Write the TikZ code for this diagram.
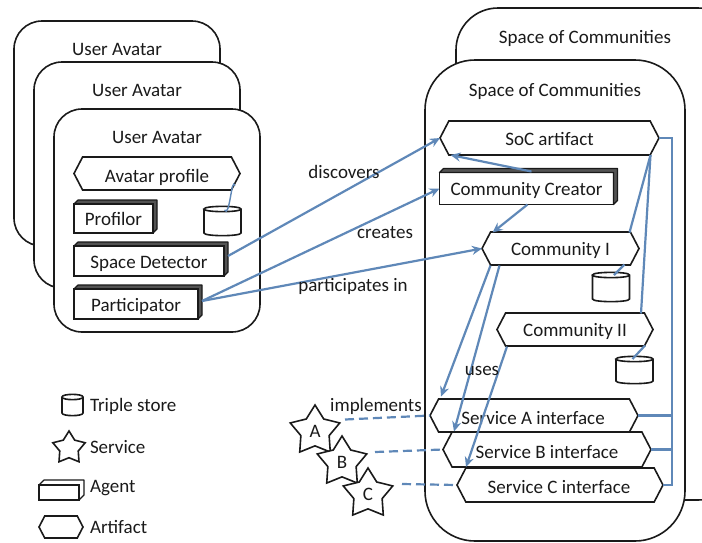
\documentclass[tikz,border=0pt]{standalone}
\usepackage{fontspec}
\setmainfont{Carlito}
\usetikzlibrary{shapes.geometric,shapes.symbols,arrows.meta}
\definecolor{linkblue}{HTML}{5F88B8}
\definecolor{inkblack}{HTML}{1A1A1A}
\tikzset{
  x=1pt,y=-1pt,
  every node/.style={font=\fontsize{19}{21}\selectfont,text=inkblack,inner sep=0pt,outer sep=0pt},
  boxline/.style={draw=inkblack,line width=1.6pt,fill=white},
  container/.style={boxline,rounded corners=#1},
  artifact/.style={boxline,signal,signal to=east and west,signal pointer angle=125},
  agentface/.style={boxline,rectangle},
  depth/.style={draw=inkblack,line width=1.2pt,fill=inkblack!75,line join=round},
  storebase/.style={rectangle},
  service/.style={boxline,star,star points=5,star point ratio=1.75,minimum size=52pt},
  link/.style={draw=linkblue,line width=2.2pt},
  arrowlink/.style={link,-{Stealth[length=10pt,width=9pt]}},
  thinlink/.style={draw=linkblue,line width=1.4pt},
  dashlink/.style={link,dash pattern=on 9pt off 5pt},
  label/.style={}
}
\newcommand{\hexa}[6][-7pt]{\node[artifact,minimum width=#4pt,minimum height=#5pt] (#2) at #3 {\smash{\raisebox{#1}{#6}}};}
\newcommand{\agentbox}[6][4]{%
  \node[agentface,minimum width=#4pt,minimum height=#5pt] (#2) at #3 {\smash{\raisebox{-7pt}{#6}}};
  \path[depth] (#2.north west) -- ++(#1,-#1) -- ([shift={(#1,-#1)}]#2.north east) -- ([shift={(#1,-#1)}]#2.south east) -- (#2.south east) -- (#2.north east) -- cycle;
  \draw[boxline,fill=none] (#2.north west) rectangle (#2.south east);}
\newcommand{\storebox}[4]{%
  \node[storebase,minimum width=#3pt,minimum height=#4pt] (#1) at #2 {};
  \path[boxline] (#1.north west) -- (#1.south west) .. controls +(0,3.5) and +(0,3.5) .. (#1.south east) -- (#1.north east) .. controls +(0,-3.5) and +(0,-3.5) .. (#1.north west) .. controls +(0,3.5) and +(0,3.5) .. (#1.north east);}
\begin{document}
\begin{tikzpicture}
\useasboundingbox (0,0) rectangle (702,542);
% avatar stack
\draw[container=28pt] (14,21) rectangle (220,246);
\draw[container=28pt] (34,62) rectangle (240,288);
\draw[container=28pt] (54,109) rectangle (260,332);
\node[label] (ua1) at (117,49) {User Avatar};
\node[label] (ua2) at (137,90) {User Avatar};
\node[label] (ua3) at (157,137) {User Avatar};
\hexa[-9pt]{prof}{(157,173.5)}{166}{33}{Avatar profile}
\agentbox{profilor}{(113.5,218.5)}{79}{29}{Profilor}
\storebox{cylA}{(222.5,221)}{37}{24}
\agentbox{detector}{(149,261)}{150}{30}{Space Detector}
\agentbox{particip}{(136,304)}{124}{30}{Participator}
% spaces of communities
\draw[container=42pt] (456,8) rectangle (740,500);
\draw[container=50pt] (425,60) rectangle (685,541);
\node[label] (soc1) at (585,38) {Space of Communities};
\node[label] (soc2) at (555,91) {Space of Communities};
\hexa{soc}{(549.5,138)}{219}{34}{SoC artifact}
\agentbox{creator}{(526.5,188.5)}{174}{32}{Community Creator}
\hexa{comI}{(560.5,248.5)}{157}{33}{Community I}
\storebox{cylB}{(611,287)}{37}{24}
\hexa{comII}{(575,329.5)}{156}{33}{Community II}
\storebox{cylC}{(634.5,370)}{37}{22}
\hexa{svcA}{(534,415.5)}{208}{33}{}
\hexa{svcB}{(547,449.5)}{208}{35}{}
\hexa{svcC}{(560,485)}{206}{34}{}
\node[label] (tA) at (533,418) {Service A interface};
\node[label] (tB) at (547,452) {Service B interface};
\node[label] (tC) at (559,487) {Service C interface};
% services
\node[service] (starA) at (315,431) {A};
\node[service] (starB) at (342,462) {B};
\node[service] (starC) at (368,494) {C};
% links
\draw[thinlink] ([shift={(78,12)}]prof.center) to[out=110,in=-60] ([shift={(2,-11)}]cylA.center);
\draw[arrowlink] (detector.east) ++(4,-5) coordinate (dE) -- (soc.west);
\draw[arrowlink] (particip.east) ++(4,-3) coordinate (pE) -- (creator.west);
\draw[arrowlink] (pE) -- (comI.west);
\draw[arrowlink] ([shift={(5,-17)}]creator.center) -- ([shift={(-99,17)}]soc.center);
\draw[arrowlink] ([shift={(1,16)}]creator.center) -- ([shift={(-68,-16)}]comI.center);
\coordinate (socfoot) at ([shift={(101,17)}]soc.center);
\draw[link] (socfoot) -- ([shift={(69,-16)}]comI.center);
\draw[link] (socfoot) -- ([shift={(66,-16)}]comII.center);
\draw[link] ([shift={(64,16)}]comI.center) -- ([shift={(3,-12)}]cylB.center);
\draw[link] ([shift={(70,16)}]comII.center) -- ([shift={(-2,-11)}]cylC.center);
\draw[link] (soc.east) -- ++(13,0) coordinate (bus) |- (svcC.east);
\draw[link] (svcA.east) -| (bus);
\draw[link] (svcB.east) -| (bus);
\draw[arrowlink] ([shift={(-70,17)}]comI.center) -- ([shift={(-93,-19)}]svcA.center);
\draw[arrowlink] ([shift={(-61,17)}]comI.center) -- ([shift={(-93,-18)}]svcB.center);
\draw[arrowlink] ([shift={(-68,17)}]comII.center) -- ([shift={(-94,-18)}]svcC.center);
\draw[dashlink] ([shift={(30,-11.5)}]starA.center) -- (svcA.west);
\draw[dashlink] ([shift={(33,-10)}]starB.center) -- (svcB.west);
\draw[dashlink] ([shift={(34,-10)}]starC.center) -- (svcC.west);
% connector labels
\node[label] (lDisc) at (344,172) {discovers};
\node[label] (lCre) at (385,233) {creates};
\node[label] (lPart) at (353,286) {participates in};
\node[label] (lUses) at (482,371) {uses};
\node[label] (lImpl) at (376,406) {implements};
% legend
\storebox{legS}{(72.5,405)}{21}{16}
\node[label,anchor=west] (legSt) at (90,406) {Triple store};
\node[boxline,star,star points=5,star point ratio=1.75,minimum size=34pt] (legV) at (69,448) {};
\node[label,anchor=west] (legVt) at (90,447) {Service};
{\tikzset{depth/.append style={fill=white}}
\agentbox[5]{legA}{(59,492.5)}{40}{15}{}}
\node[label,anchor=west] (legAt) at (90,488) {Agent};
\hexa{legH}{(61,527)}{44}{22}{}
\node[label,anchor=west] (legHt) at (90,527) {Artifact};
\end{tikzpicture}
\end{document}
